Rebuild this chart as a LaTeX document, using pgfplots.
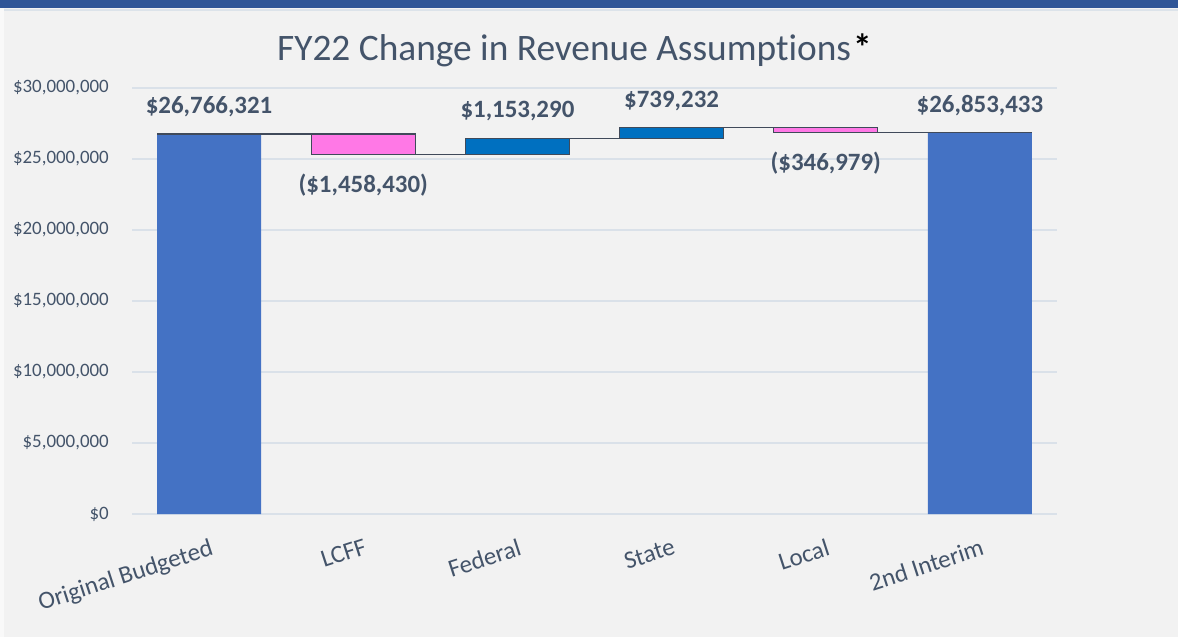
\documentclass[border=0pt]{standalone}
\usepackage{pgfplots}
\pgfplotsset{compat=1.18}
\usepackage{pgfplotstable}
\usepackage{fontspec}
\setmainfont{Carlito}[Ligatures={NoCommon}]
\definecolor{bg}{HTML}{F2F2F2}
\definecolor{band}{HTML}{2F5597}
\definecolor{bandline}{HTML}{DCE3EA}
\definecolor{gridc}{HTML}{DAE1E9}
\definecolor{totalc}{HTML}{4472C4}
\definecolor{incc}{HTML}{0070C0}
\definecolor{decc}{HTML}{FF78E6}
\definecolor{edgec}{HTML}{404A5A}
\definecolor{txt}{HTML}{44546A}

\pgfplotstableread{
x base total inc dec
0 0 26766321 0 0
1 25307891 0 0 1458430
2 25307891 0 1153290 0
3 26461181 0 739232 0
4 26853434 0 0 346979
5 0 26853433 0 0
}\wf

\pgfplotstableread{
x y label
0 26766321 {\$26,766,321}
2 26461181 {\$1,153,290}
3 27200413 {\$739,232}
5 26853433 {\$26,853,433}
}\poslab

\pgfplotstableread{
x y label
1 25307891 {(\$1,458,430)}
4 26853434 {(\$346,979)}
}\neglab

\begin{document}
\begin{tikzpicture}
\fill[bg] (0,0) rectangle (1178bp,637bp);
\fill[white!50!bg] (0,0) rectangle (4bp,629bp);
\fill[band] (0,629.3bp) rectangle (1178bp,637bp);
\fill[bandline] (4bp,626bp) rectangle (1178bp,628.3bp);

\node[anchor=base west, inner sep=0pt, text=txt, font=\fontsize{37.5}{42}\selectfont]
  at (277bp,576.3bp) {FY22 Change in Revenue Assumptions\kern2bp{\bfseries\color{black}*}};

\pgfplotsset{
  wfaxis/.style={
    at={(132bp,123bp)}, anchor=south west,
    scale only axis, width=925bp, height=426bp,
    xmin=-0.5, xmax=5.5, ymin=0, ymax=30000000,
    clip=false,
  }
}

\begin{axis}[wfaxis,
  ybar stacked, bar width=0.675,
  axis line style={draw=none},
  major tick length=0pt,
  ymajorgrids, grid style={draw=gridc, line width=1.6bp},
  ytick={0,5000000,10000000,15000000,20000000,25000000,30000000},
  yticklabels={{\$0},{\$5,000,000},{\$10,000,000},{\$15,000,000},{\$20,000,000},{\$25,000,000},{\$30,000,000}},
  scaled y ticks=false,
  yticklabel style={anchor=east, inner sep=0pt, xshift=-23bp, text=txt, font=\fontsize{19}{21}\selectfont},
  xtick={0,1,2,3,4,5},
  xticklabels={Original Budgeted,LCFF,Federal,State,Local,2nd Interim},
  xticklabel style={anchor=north east, rotate=18, inner sep=0pt, text=txt, font=\fontsize{25}{28}\selectfont},
  xticklabel shift=24bp,
]
\addplot[draw=none, fill=none] table[x=x, y=base] {\wf};
\addplot[draw=none, fill=totalc] table[x=x, y=total] {\wf};
\addplot[draw=edgec, line width=1.4bp, fill=incc] table[x=x, y=inc] {\wf};
\addplot[draw=edgec, line width=1.4bp, fill=decc] table[x=x, y=dec] {\wf};
\end{axis}

\begin{axis}[wfaxis, hide axis]
\addplot[edgec, line width=1.3bp] coordinates {(-0.3375,26766321) (1.3375,26766321)};
\addplot[edgec, line width=1.3bp] coordinates {(0.6625,25307891) (2.3375,25307891)};
\addplot[edgec, line width=1.3bp] coordinates {(1.6625,26461181) (3.3375,26461181)};
\addplot[edgec, line width=1.3bp] coordinates {(2.6625,27200413) (4.3375,27200413)};
\addplot[edgec, line width=1.3bp] coordinates {(3.6625,26853434) (5.3375,26853434)};
\addplot[draw=none, mark=none, nodes near coords, point meta=explicit symbolic,
  nodes near coords style={anchor=base, inner sep=0pt, yshift=20.5bp, text=txt, font=\bfseries\fontsize{25}{28}\selectfont}]
  table[x=x, y=y, meta=label] {\poslab};
\addplot[draw=none, mark=none, nodes near coords, point meta=explicit symbolic,
  nodes near coords style={anchor=base, inner sep=0pt, yshift=-37.7bp, text=txt, font=\bfseries\fontsize{25}{28}\selectfont}]
  table[x=x, y=y, meta=label] {\neglab};
\end{axis}
\end{tikzpicture}
\end{document}
